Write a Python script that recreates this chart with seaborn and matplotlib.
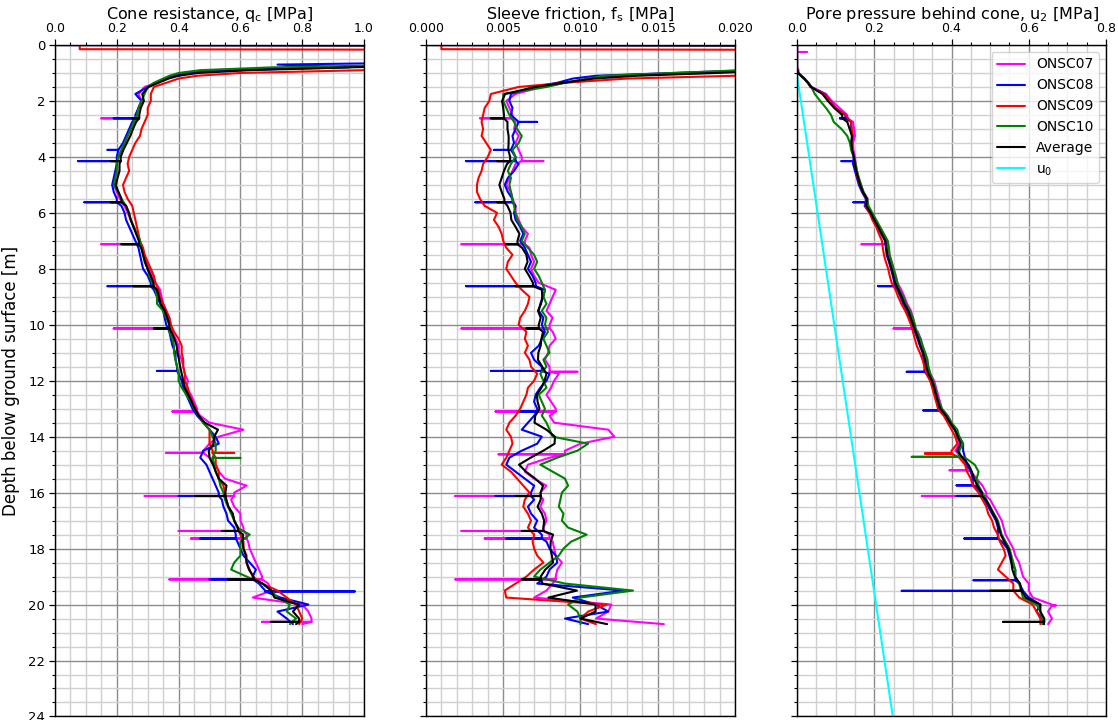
import numpy as np
import matplotlib
matplotlib.use("Agg")
import matplotlib.pyplot as plt
import seaborn as sns
from matplotlib.ticker import MultipleLocator, FormatStrFormatter

# ---------------- data ----------------
DEPTH = [0.0, 0.03, 0.06, 0.1, 0.15, 0.2, 0.6, 0.7, 0.8, 0.9, 1.0, 1.1, 1.2, 1.35, 1.5, 1.75] \
    + list(np.arange(2.0, 20.51, 0.25)) + [20.7]

NAMES = ["ONSC07", "ONSC08", "ONSC09", "ONSC10"]
COLORS = ["#ff00ff", "#0000ff", "#ff0000", "#008000"]

# Cone resistance qc [MPa]
QC_ONSC07 = [0.0, 3.0, 3.0, 3.0, 3.0, 3.0, 2.0, 1.3, 0.85, 0.5, 0.42, 0.38, 0.36, 0.33, 0.29, 0.27,
             0.28, 0.27, 0.265, 0.255, 0.245, 0.235, 0.225, 0.215,
             0.205, 0.20, 0.20, 0.195, 0.19, 0.20, 0.21, 0.225,
             0.235, 0.245, 0.255, 0.265, 0.275, 0.28, 0.29, 0.295,
             0.305, 0.315, 0.325, 0.34, 0.345, 0.35, 0.36, 0.37,
             0.375, 0.38, 0.39, 0.40, 0.40, 0.41, 0.415, 0.42,
             0.43, 0.425, 0.44, 0.45, 0.46, 0.47, 0.50, 0.61,
             0.53, 0.50, 0.48, 0.50, 0.52, 0.53, 0.55, 0.62,
             0.58, 0.57, 0.58, 0.60, 0.60, 0.61, 0.62, 0.625,
             0.63, 0.64, 0.65, 0.66, 0.67, 0.69, 0.70, 0.64,
             0.80, 0.82, 0.83, 0.80]
QC_ONSC08 = [0.0, 3.0, 3.0, 3.0, 3.0, 3.0, 1.4, 0.72, 0.95, 0.55, 0.43, 0.39, 0.36, 0.33, 0.30, 0.26,
             0.28, 0.27, 0.26, 0.25, 0.24, 0.23, 0.22, 0.205,
             0.20, 0.20, 0.195, 0.19, 0.185, 0.19, 0.20, 0.215,
             0.225, 0.23, 0.24, 0.25, 0.26, 0.27, 0.275, 0.28,
             0.285, 0.30, 0.31, 0.32, 0.33, 0.34, 0.35, 0.355,
             0.36, 0.37, 0.375, 0.38, 0.39, 0.39, 0.395, 0.40,
             0.41, 0.415, 0.425, 0.435, 0.445, 0.46, 0.48, 0.50,
             0.52, 0.53, 0.48, 0.47, 0.49, 0.50, 0.51, 0.52,
             0.53, 0.54, 0.545, 0.555, 0.56, 0.58, 0.585, 0.59,
             0.60, 0.61, 0.63, 0.65, 0.64, 0.66, 0.68, 0.73,
             0.82, 0.72, 0.75, 0.77]
QC_ONSC09 = [0.08, 0.08, 0.08, 0.08, 0.08, 3.0, 2.5, 2.0, 1.3, 1.0, 0.6, 0.46, 0.40, 0.36, 0.32, 0.31,
             0.31, 0.30, 0.30, 0.29, 0.28, 0.275, 0.26, 0.25,
             0.24, 0.235, 0.24, 0.23, 0.22, 0.225, 0.235, 0.25,
             0.255, 0.26, 0.265, 0.27, 0.275, 0.285, 0.29, 0.30,
             0.31, 0.32, 0.325, 0.335, 0.34, 0.35, 0.36, 0.37,
             0.375, 0.385, 0.40, 0.41, 0.41, 0.415, 0.415, 0.42,
             0.42, 0.43, 0.435, 0.445, 0.455, 0.465, 0.48, 0.50,
             0.50, 0.50, 0.51, 0.52, 0.52, 0.53, 0.53, 0.545,
             0.55, 0.555, 0.56, 0.575, 0.58, 0.59, 0.60, 0.61,
             0.61, 0.62, 0.62, 0.63, 0.64, 0.67, 0.72, 0.75,
             0.78, 0.79, 0.80, 0.79]
QC_ONSC10 = [0.0, 3.0, 3.0, 3.0, 3.0, 3.0, 2.0, 1.2, 0.7, 0.47, 0.40, 0.37, 0.35, 0.32, 0.30, 0.29,
             0.28, 0.27, 0.265, 0.255, 0.245, 0.235, 0.225, 0.215,
             0.205, 0.20, 0.20, 0.195, 0.19, 0.205, 0.215, 0.23,
             0.24, 0.245, 0.255, 0.265, 0.275, 0.28, 0.285, 0.29,
             0.30, 0.305, 0.315, 0.325, 0.33, 0.33, 0.35, 0.36,
             0.37, 0.37, 0.38, 0.385, 0.385, 0.39, 0.395, 0.40,
             0.40, 0.41, 0.425, 0.44, 0.45, 0.465, 0.48, 0.50,
             0.51, 0.52, 0.52, 0.51, 0.515, 0.52, 0.53, 0.535,
             0.545, 0.55, 0.56, 0.57, 0.58, 0.59, 0.63, 0.60,
             0.60, 0.60, 0.58, 0.57, 0.62, 0.67, 0.70, 0.72,
             0.76, 0.75, 0.78, 0.76]

# short spikes (rod breaks) : depth, value
QC_SPK07_D = [2.62, 7.12, 10.13, 13.1, 14.58, 16.12, 17.37, 17.64, 19.1, 20.62]
QC_SPK07_V = [0.15, 0.15, 0.19, 0.38, 0.36, 0.29, 0.40, 0.44, 0.37, 0.67]
QC_SPK08_D = [2.62, 3.75, 4.15, 5.62, 8.62, 11.65, 16.12, 17.64, 19.1, 19.53]
QC_SPK08_V = [0.19, 0.17, 0.075, 0.095, 0.17, 0.33, 0.40, 0.47, 0.50, 0.97]
QC_SPK09_D = [14.58]
QC_SPK09_V = [0.58]
QC_SPK10_D = [14.76]
QC_SPK10_V = [0.60]
QC_SPKAV_D = [2.62, 4.15, 5.62, 7.12, 8.62, 10.13, 16.12, 17.37, 19.1, 20.62]
QC_SPKAV_V = [0.25, 0.18, 0.18, 0.215, 0.254, 0.32, 0.454, 0.54, 0.56, 0.70]

# Sleeve friction fs [MPa]
FS_ONSC07 = [0.0, 0.05, 0.05, 0.05, 0.05, 0.05, 0.05, 0.04, 0.03, 0.022, 0.018, 0.012, 0.0105, 0.009, 0.0075, 0.0058,
             0.0052, 0.0054, 0.0056, 0.0058, 0.0057, 0.0060, 0.0058, 0.0060,
             0.0062, 0.0058, 0.0056, 0.0054, 0.0052, 0.0055, 0.0056, 0.0058,
             0.0058, 0.0060, 0.0062, 0.0066, 0.0064, 0.0067, 0.0068, 0.0070,
             0.0068, 0.0070, 0.0073, 0.0084, 0.0082, 0.0080, 0.0078, 0.0082,
             0.0080, 0.0082, 0.0084, 0.0080, 0.0079, 0.0077, 0.0080, 0.0086,
             0.0083, 0.0081, 0.0078, 0.0081, 0.0084, 0.0080, 0.0083, 0.0118,
             0.0122, 0.0100, 0.0090, 0.0080, 0.0066, 0.0064, 0.0070, 0.0078,
             0.0074, 0.0076, 0.0074, 0.0077, 0.0078, 0.0076, 0.0080, 0.0082,
             0.0083, 0.0084, 0.0088, 0.0085, 0.0084, 0.0082, 0.0078, 0.0070,
             0.0120, 0.0118, 0.0110, 0.0154]
FS_ONSC08 = [0.0, 0.05, 0.05, 0.05, 0.05, 0.05, 0.05, 0.04, 0.03, 0.021, 0.016, 0.011, 0.0095, 0.0085, 0.0070, 0.0055,
             0.0054, 0.0056, 0.0055, 0.0060, 0.0058, 0.0056, 0.0057, 0.0055,
             0.0058, 0.0060, 0.0057, 0.0053, 0.0051, 0.0053, 0.0056, 0.0058,
             0.0057, 0.0058, 0.0061, 0.0063, 0.0061, 0.0064, 0.0066, 0.0068,
             0.0066, 0.0069, 0.0071, 0.0077, 0.0076, 0.0074, 0.0073, 0.0076,
             0.0075, 0.0077, 0.0075, 0.0073, 0.0068, 0.0070, 0.0075, 0.0080,
             0.0078, 0.0074, 0.0071, 0.0070, 0.0072, 0.0070, 0.0066, 0.0062,
             0.0075, 0.0072, 0.0062, 0.0054, 0.0052, 0.0058, 0.0064, 0.0070,
             0.0068, 0.0070, 0.0066, 0.0068, 0.0072, 0.0070, 0.0075, 0.0078,
             0.0080, 0.0084, 0.0085, 0.0080, 0.0078, 0.0072, 0.0128, 0.0095,
             0.0110, 0.0118, 0.0090, 0.0105]
FS_ONSC09 = [0.001, 0.001, 0.001, 0.001, 0.001, 0.05, 0.05, 0.045, 0.035, 0.03, 0.025, 0.02, 0.013, 0.009, 0.006, 0.0042,
             0.0041, 0.0038, 0.0037, 0.0036, 0.0037, 0.0036, 0.0039, 0.0042,
             0.0040, 0.0037, 0.0036, 0.0034, 0.0033, 0.0033, 0.0035, 0.0038,
             0.0046, 0.0044, 0.0047, 0.0049, 0.0050, 0.0052, 0.0056, 0.0053,
             0.0052, 0.0055, 0.0058, 0.0062, 0.0067, 0.0066, 0.0064, 0.0061,
             0.0060, 0.0065, 0.0064, 0.0066, 0.0064, 0.0067, 0.0068, 0.0072,
             0.0070, 0.0066, 0.0065, 0.0063, 0.0061, 0.0058, 0.0054, 0.0052,
             0.0055, 0.0056, 0.0054, 0.0052, 0.0049, 0.0055, 0.0059, 0.0063,
             0.0067, 0.0064, 0.0063, 0.0066, 0.0068, 0.0066, 0.0070, 0.0069,
             0.0070, 0.0072, 0.0076, 0.0070, 0.0065, 0.0058, 0.0051, 0.0052,
             0.0117, 0.0105, 0.0100, 0.0110]
FS_ONSC10 = [0.0, 0.05, 0.05, 0.05, 0.05, 0.05, 0.05, 0.04, 0.028, 0.0205, 0.016, 0.0115, 0.0105, 0.009, 0.0078, 0.0050,
             0.0050, 0.0052, 0.0054, 0.0057, 0.0059, 0.0062, 0.0060, 0.0056,
             0.0058, 0.0055, 0.0053, 0.0055, 0.0054, 0.0055, 0.0056, 0.0057,
             0.0058, 0.0059, 0.0062, 0.0064, 0.0062, 0.0066, 0.0070, 0.0072,
             0.0070, 0.0073, 0.0075, 0.0077, 0.0076, 0.0078, 0.0075, 0.0078,
             0.0077, 0.0079, 0.0076, 0.0078, 0.0080, 0.0076, 0.0078, 0.0074,
             0.0076, 0.0078, 0.0073, 0.0075, 0.0077, 0.0075, 0.0078, 0.0080,
             0.0082, 0.0105, 0.0098, 0.0085, 0.0074, 0.0082, 0.0090, 0.0092,
             0.0088, 0.0087, 0.0086, 0.0089, 0.0088, 0.0092, 0.0104, 0.0094,
             0.0089, 0.0086, 0.0080, 0.0074, 0.0070, 0.0090, 0.0134, 0.0100,
             0.0092, 0.0098, 0.0100, 0.0100]

FS_SPK07_D = [2.62, 4.15, 7.12, 10.13, 11.68, 13.1, 14.63, 16.12, 17.37, 17.64, 19.1]
FS_SPK07_V = [0.0035, 0.0076, 0.0023, 0.0023, 0.0098, 0.0045, 0.0047, 0.0019, 0.0023, 0.0038, 0.0019]
FS_SPK08_D = [2.75, 3.75, 4.15, 5.62, 8.62, 11.65, 13.1, 16.12, 17.64]
FS_SPK08_V = [0.0072, 0.0044, 0.0026, 0.0032, 0.0026, 0.0042, 0.0061, 0.0045, 0.0052]
FS_SPK09_D = []
FS_SPK09_V = []
FS_SPK10_D = []
FS_SPK10_V = []
FS_SPKAV_D = [2.62, 4.15, 5.62, 7.12, 8.62, 10.13, 16.12, 17.37, 19.1]
FS_SPKAV_V = [0.0042, 0.0046, 0.0046, 0.0052, 0.0058, 0.0065, 0.0058, 0.0062, 0.0062]

# Pore pressure u2 [MPa]
U2_ONSC07 = [0.0, 0.0, 0.0, 0.0, 0.0, 0.0, 0.0, 0.0, 0.0, 0.004, 0.004, 0.012, 0.02, 0.03, 0.038, 0.075,
             0.09, 0.11, 0.13, 0.145, 0.148, 0.15, 0.145, 0.146,
             0.15, 0.152, 0.155, 0.16, 0.165, 0.172, 0.183, 0.18,
             0.192, 0.202, 0.212, 0.222, 0.232, 0.235, 0.238, 0.245,
             0.25, 0.256, 0.26, 0.27, 0.278, 0.285, 0.295, 0.30,
             0.305, 0.313, 0.32, 0.325, 0.33, 0.335, 0.34, 0.345,
             0.355, 0.36, 0.365, 0.37, 0.375, 0.39, 0.40, 0.41,
             0.415, 0.42, 0.41, 0.425, 0.44, 0.45, 0.465, 0.48,
             0.49, 0.50, 0.51, 0.52, 0.53, 0.535, 0.54, 0.55,
             0.56, 0.565, 0.575, 0.58, 0.585, 0.60, 0.60, 0.61,
             0.66, 0.65, 0.66, 0.65]
U2_ONSC08 = [0.0, 0.0, 0.0, 0.0, 0.0, 0.0, 0.0, 0.0, 0.0, 0.0, 0.003, 0.01, 0.018, 0.028, 0.035, 0.072,
             0.085, 0.10, 0.125, 0.14, 0.14, 0.143, 0.14, 0.142,
             0.146, 0.145, 0.15, 0.155, 0.16, 0.168, 0.178, 0.175,
             0.188, 0.198, 0.208, 0.218, 0.228, 0.23, 0.232, 0.238,
             0.243, 0.248, 0.252, 0.26, 0.268, 0.275, 0.285, 0.29,
             0.298, 0.305, 0.312, 0.318, 0.325, 0.328, 0.33, 0.335,
             0.345, 0.352, 0.358, 0.362, 0.368, 0.382, 0.395, 0.408,
             0.42, 0.43, 0.43, 0.435, 0.44, 0.45, 0.455, 0.46,
             0.475, 0.485, 0.495, 0.505, 0.515, 0.52, 0.52, 0.53,
             0.545, 0.55, 0.555, 0.565, 0.565, 0.575, 0.585, 0.60,
             0.63, 0.62, 0.635, 0.64]
U2_ONSC09 = [0.0, 0.0, 0.0, 0.0, 0.0, 0.0, 0.0, 0.0, 0.0, 0.0, 0.003, 0.01, 0.018, 0.028, 0.035, 0.07,
             0.085, 0.10, 0.125, 0.14, 0.142, 0.145, 0.142, 0.143,
             0.147, 0.15, 0.153, 0.157, 0.163, 0.17, 0.18, 0.177,
             0.188, 0.195, 0.205, 0.212, 0.22, 0.222, 0.225, 0.23,
             0.236, 0.24, 0.245, 0.255, 0.262, 0.27, 0.28, 0.288,
             0.295, 0.30, 0.305, 0.31, 0.318, 0.325, 0.33, 0.335,
             0.345, 0.35, 0.355, 0.36, 0.365, 0.38, 0.39, 0.40,
             0.41, 0.415, 0.40, 0.42, 0.435, 0.44, 0.45, 0.455,
             0.47, 0.48, 0.49, 0.495, 0.505, 0.51, 0.52, 0.525,
             0.535, 0.54, 0.53, 0.52, 0.54, 0.56, 0.56, 0.575,
             0.61, 0.62, 0.63, 0.63]
U2_ONSC10 = [0.0, 0.0, 0.0, 0.0, 0.0, 0.0, 0.0, 0.0, 0.0, 0.0, 0.002, 0.01, 0.018, 0.028, 0.037, 0.046,
             0.06, 0.075, 0.088, 0.095, 0.115, 0.13, 0.137, 0.14,
             0.147, 0.152, 0.155, 0.16, 0.166, 0.172, 0.182, 0.185,
             0.195, 0.205, 0.215, 0.225, 0.235, 0.238, 0.24, 0.245,
             0.25, 0.255, 0.26, 0.265, 0.275, 0.282, 0.292, 0.30,
             0.305, 0.31, 0.32, 0.325, 0.332, 0.338, 0.34, 0.345,
             0.352, 0.358, 0.362, 0.368, 0.375, 0.39, 0.40, 0.415,
             0.42, 0.43, 0.42, 0.435, 0.46, 0.47, 0.465, 0.47,
             0.48, 0.49, 0.50, 0.51, 0.52, 0.525, 0.53, 0.54,
             0.55, 0.555, 0.56, 0.565, 0.565, 0.575, 0.58, 0.585,
             0.62, 0.63, 0.635, 0.635]

U2_SPK07_D = [0.25, 2.62, 7.12, 10.13, 15.2, 16.12, 20.03]
U2_SPK07_V = [0.025, 0.111, 0.167, 0.25, 0.395, 0.323, 0.67]
U2_SPK08_D = [2.62, 4.15, 5.62, 8.62, 11.68, 13.06, 15.74, 16.12, 17.64, 19.13, 19.51]
U2_SPK08_V = [0.111, 0.115, 0.146, 0.21, 0.284, 0.327, 0.413, 0.413, 0.433, 0.457, 0.271]
U2_SPK09_D = [14.6]
U2_SPK09_V = [0.331]
U2_SPK10_D = [14.72]
U2_SPK10_V = [0.297]
U2_SPKAV_D = [2.62, 16.12, 19.51, 20.62]
U2_SPKAV_V = [0.12, 0.45, 0.50, 0.534]

# hydrostatic pore pressure u0
U0_DEPTH = [1.08, 24.0]
U0_VALUE = [0.0, 0.248]


def with_spikes(depth, vals, sd, sv):
    d = list(depth)
    v = list(vals)
    for ds, vs in sorted(zip(sd, sv)):
        i = int(np.searchsorted(d, ds, side="right")) - 1
        base = v[i]
        d[i + 1:i + 1] = [ds, ds, ds]
        v[i + 1:i + 1] = [base, vs, base]
    return d, v


PANELS = [
    dict(series=[QC_ONSC07, QC_ONSC08, QC_ONSC09, QC_ONSC10],
         spikes=[(QC_SPK07_D, QC_SPK07_V), (QC_SPK08_D, QC_SPK08_V),
                 (QC_SPK09_D, QC_SPK09_V), (QC_SPK10_D, QC_SPK10_V)],
         avg_spk=(QC_SPKAV_D, QC_SPKAV_V),
         xlim=(0, 1.0), major=0.2, minor=0.05, fmt="%.1f",
         title=r"Cone resistance, q$_\mathrm{c}$ [MPa]"),
    dict(series=[FS_ONSC07, FS_ONSC08, FS_ONSC09, FS_ONSC10],
         spikes=[(FS_SPK07_D, FS_SPK07_V), (FS_SPK08_D, FS_SPK08_V),
                 (FS_SPK09_D, FS_SPK09_V), (FS_SPK10_D, FS_SPK10_V)],
         avg_spk=(FS_SPKAV_D, FS_SPKAV_V),
         xlim=(0, 0.02), major=0.005, minor=0.001, fmt="%.3f",
         title=r"Sleeve friction, f$_\mathrm{s}$ [MPa]"),
    dict(series=[U2_ONSC07, U2_ONSC08, U2_ONSC09, U2_ONSC10],
         spikes=[(U2_SPK07_D, U2_SPK07_V), (U2_SPK08_D, U2_SPK08_V),
                 (U2_SPK09_D, U2_SPK09_V), (U2_SPK10_D, U2_SPK10_V)],
         avg_spk=(U2_SPKAV_D, U2_SPKAV_V),
         xlim=(0, 0.8), major=0.2, minor=0.05, fmt="%.1f",
         title=r"Pore pressure behind cone, u$_2$ [MPa]"),
]

# ---------------- figure ----------------
sns.set_style("white")
plt.rcParams["font.family"] = ["DejaVu Sans"]
plt.rcParams["text.color"] = "black"
plt.rcParams["xtick.color"] = "black"
plt.rcParams["ytick.color"] = "black"
plt.rcParams["axes.labelcolor"] = "black"

fig = plt.figure(figsize=(11.18, 7.2), dpi=100)
W, H, B = 0.2764, 0.9326, 0.0049
lefts = [0.0492, 0.381, 0.7129]
axes = [fig.add_axes([l, B, W, H]) for l in lefts]

LW = 1.5
handles = []
for k, (ax, p) in enumerate(zip(axes, PANELS)):
    for name, color, vals, (sd, sv) in zip(NAMES, COLORS, p["series"], p["spikes"]):
        d, v = with_spikes(DEPTH, vals, sd, sv)
        sns.lineplot(x=v, y=d, sort=False, estimator=None, color=color, lw=LW,
                     ax=ax, legend=False)
        if k == 2:
            handles.append((ax.lines[-1], name))
    avg = np.mean(np.array(p["series"]), axis=0)
    d, v = with_spikes(DEPTH, avg, *p["avg_spk"])
    sns.lineplot(x=v, y=d, sort=False, estimator=None, color="black", lw=LW,
                 ax=ax, legend=False)
    if k == 2:
        handles.append((ax.lines[-1], "Average"))
        sns.lineplot(x=U0_VALUE, y=U0_DEPTH, sort=False, estimator=None,
                     color="#00ffff", lw=LW, ax=ax, legend=False)
        handles.append((ax.lines[-1], r"u$_0$"))

    ax.set_xlim(*p["xlim"])
    ax.set_ylim(24, 0)
    ax.xaxis.set_major_locator(MultipleLocator(p["major"]))
    ax.xaxis.set_minor_locator(MultipleLocator(p["minor"]))
    ax.xaxis.set_major_formatter(FormatStrFormatter(p["fmt"]))
    ax.yaxis.set_major_locator(MultipleLocator(2))
    ax.yaxis.set_minor_locator(MultipleLocator(0.5))
    ax.xaxis.tick_top()
    ax.xaxis.set_label_position("top")
    ax.tick_params(axis="x", which="both", top=True, bottom=False,
                   labeltop=True, labelbottom=False, direction="out", labelsize=9)
    ax.tick_params(axis="y", which="both", left=True, right=False,
                   direction="out", labelsize=9.5, labelleft=(k == 0))
    ax.tick_params(which="major", length=4, width=0.9, pad=3)
    ax.tick_params(which="minor", length=2.2, width=0.8)
    ax.grid(True, which="major", color="#8c8c8c", lw=1.0)
    ax.grid(True, which="minor", color="#d0d0d0", lw=1.0)
    ax.set_axisbelow(True)
    for sp in ax.spines.values():
        sp.set_visible(True)
        sp.set_color("black")
        sp.set_linewidth(1.0)
    ax.set_xlabel(p["title"], fontsize=11.5, labelpad=2)
    ax.set_ylabel("")

axes[0].set_ylabel("Depth below ground surface [m]", fontsize=12, labelpad=6)

axes[2].legend([h for h, _ in handles], [l for _, l in handles], loc="upper right",
               fontsize=10, frameon=True, framealpha=0.8, edgecolor="0.8", fancybox=True)

fig.savefig("out.png", dpi=100)
